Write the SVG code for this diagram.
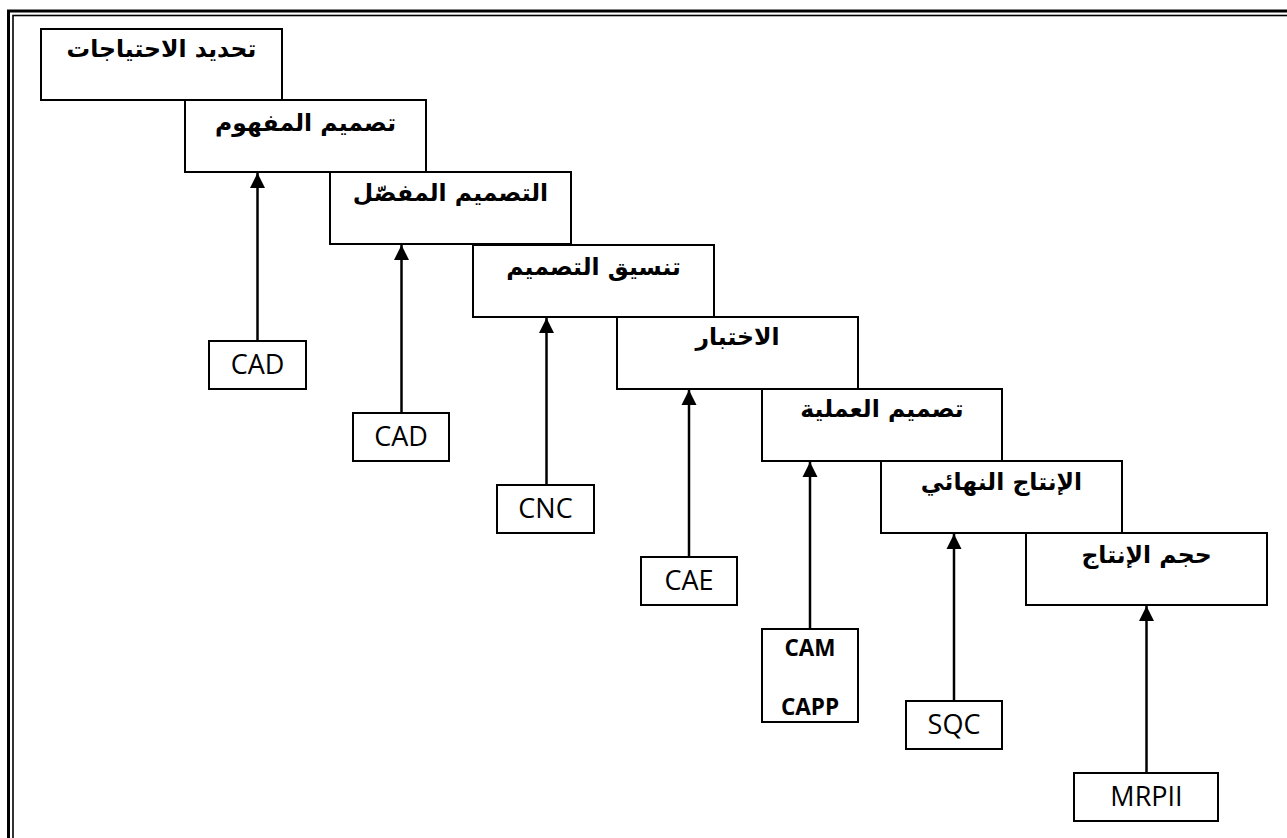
<svg xmlns="http://www.w3.org/2000/svg" width="1287" height="838" viewBox="0 0 1287 838">
<style>
.box{fill:#fff;stroke:#000;stroke-width:2}
.ar{font-family:"DejaVu Sans","Noto Sans",sans-serif;font-weight:bold;font-size:23.5px;fill:#000;text-anchor:middle}
.lat{font-family:"Open Sans","Liberation Sans",sans-serif;font-size:27px;fill:#000;text-anchor:middle}
.latb{font-family:"Open Sans","Liberation Sans",sans-serif;font-size:22.5px;font-weight:bold;fill:#000;text-anchor:middle}
.conn{stroke:#000;stroke-width:2.5;fill:none;marker-end:url(#ah)}
</style>
<defs>
<marker id="ah" markerUnits="userSpaceOnUse" markerWidth="16" markerHeight="16" viewBox="0 0 16 16" refX="15" refY="8" orient="auto">
<path d="M0,0.5 L15,8 L0,15.5 Z" fill="#000"/>
</marker>
</defs>
<rect width="1287" height="838" fill="#fff"/>
<g id="frame">
<rect x="8.5" y="11" width="1300" height="850" fill="none" stroke="#000" stroke-width="3"/>
<rect x="13" y="15.5" width="1300" height="850" fill="none" stroke="#000" stroke-width="1.6"/>
</g>
<g id="n1"><rect class="box" x="41" y="29" width="241" height="71"/><text class="ar" x="161.5" y="57">تحديد الاحتياجات</text></g>
<g id="n2"><rect class="box" x="185" y="100" width="241" height="72"/><text class="ar" x="305.5" y="131">تصميم المفهوم</text></g>
<g id="n3"><rect class="box" x="330" y="172" width="241" height="72"/><text class="ar" x="450.5" y="201">التصميم المفصّل</text></g>
<g id="n4"><rect class="box" x="473" y="245" width="241" height="72"/><text class="ar" x="593.5" y="275">تنسيق التصميم</text></g>
<g id="n5"><rect class="box" x="617" y="317" width="241" height="72"/><text class="ar" x="737.5" y="345">الاختبار</text></g>
<g id="n6"><rect class="box" x="762" y="389" width="240" height="72"/><text class="ar" x="882" y="417">تصميم العملية</text></g>
<g id="n7"><rect class="box" x="881" y="461" width="241" height="72"/><text class="ar" x="1001.5" y="490">الإنتاج النهائي</text></g>
<g id="n8"><rect class="box" x="1026" y="533" width="241" height="72"/><text class="ar" x="1146.5" y="563">حجم الإنتاج</text></g>
<g id="t1"><rect class="box" x="209" y="341" width="97" height="48"/><text class="lat" x="257.5" y="374">CAD</text></g>
<g id="t2"><rect class="box" x="353" y="413" width="96" height="48"/><text class="lat" x="401" y="446">CAD</text></g>
<g id="t3"><rect class="box" x="497" y="485" width="97" height="48"/><text class="lat" x="545.5" y="518">CNC</text></g>
<g id="t4"><rect class="box" x="641" y="557" width="96" height="48"/><text class="lat" x="689" y="590">CAE</text></g>
<g id="t5"><rect class="box" x="762" y="629" width="96" height="93"/><text class="latb" x="810" y="656">CAM</text><text class="latb" x="810" y="715">CAPP</text></g>
<g id="t6"><rect class="box" x="906" y="701" width="96" height="48"/><text class="lat" x="954" y="734">SQC</text></g>
<g id="t7"><rect class="box" x="1074" y="773" width="144" height="48"/><text class="lat" x="1146.5" y="806">MRPII</text></g>
<g id="connectors">
<line class="conn" x1="257.5" y1="341" x2="257.5" y2="173"/>
<line class="conn" x1="401.5" y1="413" x2="401.5" y2="245"/>
<line class="conn" x1="546.5" y1="485" x2="546.5" y2="318"/>
<line class="conn" x1="689" y1="557" x2="689" y2="390"/>
<line class="conn" x1="810" y1="629" x2="810" y2="462"/>
<line class="conn" x1="954" y1="701" x2="954" y2="534"/>
<line class="conn" x1="1146.5" y1="773" x2="1146.5" y2="606"/>
</g>
</svg>
